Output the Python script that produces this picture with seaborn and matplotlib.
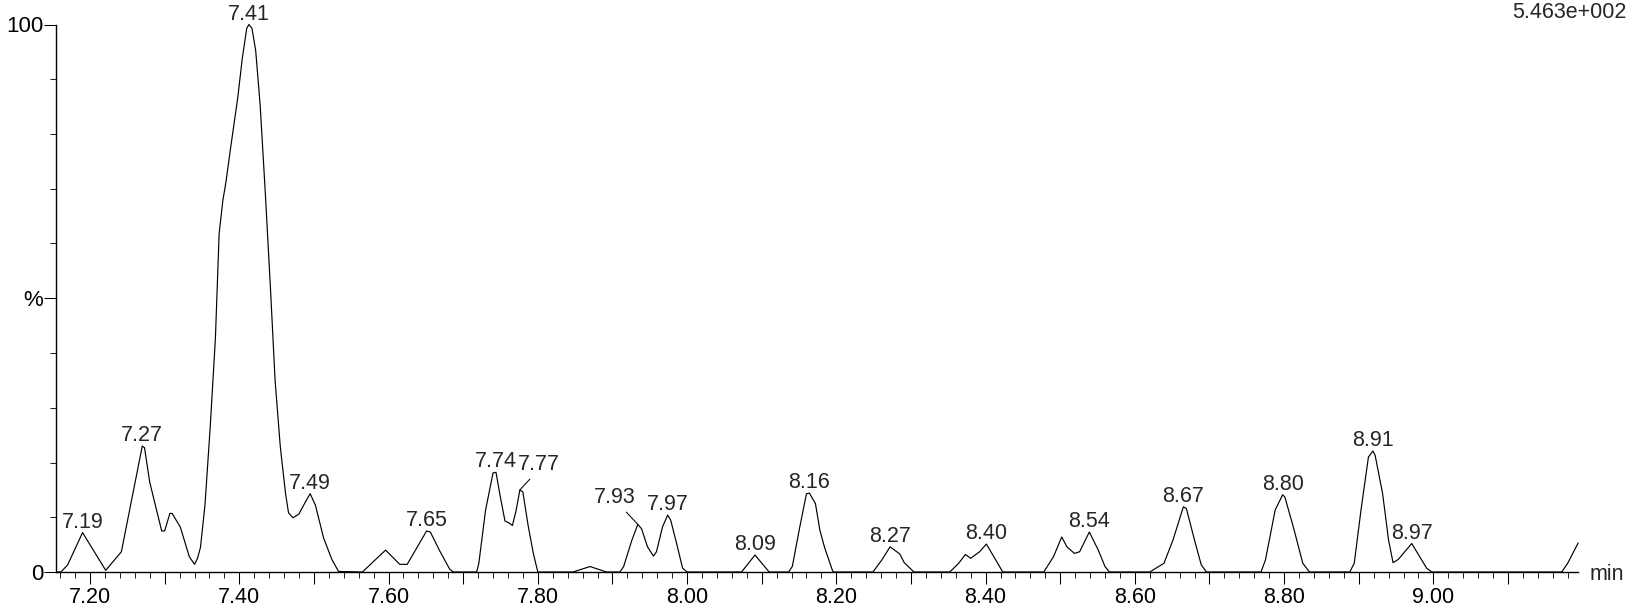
import numpy as np
import pandas as pd
import matplotlib
matplotlib.use("Agg")
import matplotlib.pyplot as plt
from matplotlib.ticker import MultipleLocator, FixedLocator, FuncFormatter
import seaborn as sns

# ---------------- data (retention time in min, relative intensity in %) ----------------
time_min = [
    7.155, 7.161, 7.170, 7.190, 7.221, 7.242, 7.270, 7.273, 7.280, 7.296, 7.300, 7.307,
    7.310, 7.321, 7.333, 7.340, 7.344, 7.348, 7.354, 7.361, 7.368, 7.373, 7.378, 7.382,
    7.388, 7.398, 7.404, 7.410, 7.413, 7.417, 7.422, 7.428, 7.435, 7.442, 7.448, 7.455,
    7.462, 7.466, 7.472, 7.480, 7.489, 7.495, 7.502, 7.513, 7.524, 7.533, 7.565, 7.596,
    7.615, 7.625, 7.651, 7.656, 7.668, 7.682, 7.687, 7.718, 7.721, 7.730, 7.740, 7.744,
    7.749, 7.756, 7.761, 7.766, 7.771, 7.776, 7.780, 7.787, 7.794, 7.800, 7.847, 7.870,
    7.892, 7.910, 7.915, 7.926, 7.934, 7.939, 7.947, 7.955, 7.959, 7.967, 7.974, 7.978,
    7.986, 7.994, 8.000, 8.073, 8.091, 8.110, 8.136, 8.141, 8.151, 8.160, 8.164, 8.172,
    8.178, 8.184, 8.195, 8.197, 8.249, 8.261, 8.272, 8.277, 8.285, 8.291, 8.304, 8.352,
    8.364, 8.373, 8.380, 8.392, 8.401, 8.411, 8.423, 8.478, 8.491, 8.502, 8.509, 8.519,
    8.526, 8.539, 8.551, 8.560, 8.566, 8.620, 8.639, 8.651, 8.665, 8.669, 8.680, 8.689,
    8.696, 8.769, 8.775, 8.788, 8.798, 8.801, 8.813, 8.825, 8.834, 8.888, 8.894, 8.903,
    8.913, 8.919, 8.922, 8.932, 8.940, 8.946, 8.953, 8.971, 8.979, 8.991, 8.998, 9.172,
    9.180, 9.189, 9.194,
]
intensity_pct = [
    0.0, 0.0, 1.3, 7.2, 0.3, 3.7, 23.0, 22.7, 16.4, 7.5, 7.5, 10.7,
    10.7, 8.2, 2.8, 1.4, 2.5, 4.5, 12.2, 26.4, 42.7, 61.8, 67.9, 71.1,
    77.1, 86.7, 93.8, 99.3, 100.0, 99.3, 95.2, 85.2, 68.9, 51.2, 34.9, 22.8,
    14.3, 10.8, 9.9, 10.6, 12.9, 14.3, 12.2, 6.2, 2.3, 0.1, 0.0, 4.0,
    1.4, 1.4, 7.5, 7.3, 4.0, 0.5, 0.0, 0.0, 1.6, 11.3, 18.1, 18.2,
    14.3, 9.3, 9.0, 8.5, 11.3, 15.0, 14.6, 8.5, 3.4, 0.0, 0.0, 1.0,
    0.0, 0.0, 1.0, 5.8, 8.7, 7.9, 4.6, 2.9, 3.7, 8.2, 10.4, 9.5,
    5.2, 0.7, 0.0, 0.0, 3.1, 0.0, 0.0, 1.0, 8.2, 14.3, 14.4, 12.5,
    7.6, 4.6, 0.2, 0.0, 0.0, 2.2, 4.6, 4.1, 3.3, 1.7, 0.0, 0.0,
    1.6, 3.2, 2.5, 3.7, 5.1, 2.8, 0.0, 0.0, 2.8, 6.4, 4.6, 3.4,
    3.7, 7.3, 4.0, 1.0, 0.0, 0.0, 1.6, 5.8, 11.9, 11.6, 5.8, 1.3,
    0.0, 0.0, 2.2, 11.3, 14.1, 13.7, 7.9, 1.6, 0.0, 0.0, 1.6, 11.3,
    21.0, 22.1, 21.3, 14.3, 5.8, 1.7, 2.3, 5.2, 3.4, 0.7, 0.0, 0.0,
    1.6, 4.0, 5.3,
]

peak_labels = ["7.19", "7.27", "7.41", "7.49", "7.65", "7.74", "7.77", "7.93", "7.97",
               "8.09", "8.16", "8.27", "8.40", "8.54", "8.67", "8.80", "8.91", "8.97"]

x_tick_labels = ["7.20", "7.40", "7.60", "7.80", "8.00", "8.20", "8.40", "8.60", "8.80", "9.00"]
y_tick_values = [0, 50, 100]
y_tick_labels = ["0", "%", "100"]
scale_label = "5.463e+002"
x_unit_label = "min"

# ---------------- figure ----------------
sns.set_style("ticks")
plt.rcParams["font.family"] = ["Liberation Sans", "DejaVu Sans"]
FS = 15.5
plt.rcParams["font.size"] = FS

W, H = 1632, 609
fig = plt.figure(figsize=(W / 100, H / 100), dpi=100)
fig.patch.set_facecolor("white")

ax_left, ax_right, ax_top, ax_bottom = 56, 1578, 24.5, 572
ax = fig.add_axes([ax_left / W, (H - ax_bottom) / H,
                   (ax_right - ax_left) / W, (ax_bottom - ax_top) / H])
ax.set_facecolor("white")

df = pd.DataFrame({"t": time_min, "v": intensity_pct})
sns.lineplot(data=df, x="t", y="v", color="black", linewidth=0.85,
             estimator=None, sort=False, ax=ax)
for ln in ax.lines:
    ln.set_clip_on(False)

ax.set_xlim(7.1544, 9.1938)
ax.set_ylim(0, 100)
ax.set_xlabel("")
ax.set_ylabel("")

for s in ("top", "right"):
    ax.spines[s].set_visible(False)
for s in ("left", "bottom"):
    ax.spines[s].set_linewidth(1.0)
    ax.spines[s].set_color("black")

# x ticks: long every 0.1, labelled every 0.2, short every 0.02
ax.xaxis.set_major_locator(MultipleLocator(0.1))
ax.xaxis.set_minor_locator(MultipleLocator(0.02))
xl_set = set(x_tick_labels)
ax.xaxis.set_major_formatter(FuncFormatter(
    lambda x, p: f"{x:.2f}" if f"{x:.2f}" in xl_set else ""))
ax.tick_params(axis="x", which="major", length=8.6, width=0.75, direction="out",
               pad=2.5, labelsize=FS, colors="black")
ax.tick_params(axis="x", which="minor", length=4.3, width=0.75, direction="out")

# y ticks
ax.yaxis.set_major_locator(FixedLocator(y_tick_values))
ax.yaxis.set_minor_locator(MultipleLocator(10))
ax.set_yticklabels(y_tick_labels)
ax.tick_params(axis="y", which="major", length=8.6, width=0.75, direction="out",
               pad=0.5, labelsize=FS + 0.5, colors="black")
ax.tick_params(axis="y", which="minor", length=4.3, width=0.75, direction="out")

# peak labels
t_arr = np.array(time_min)
v_arr = np.array(intensity_pct)
special = {
    "7.77": dict(xytext=(19, 20), relpos=(0.38, 0.0)),
    "7.93": dict(xytext=(-23, 21.5), relpos=(0.68, 0.0)),
}
for lab in peak_labels:
    tv = float(lab)
    m = np.abs(t_arr - tv) <= 0.012
    idx = np.where(m)[0][np.argmax(v_arr[m])]
    xp, yp = t_arr[idx], v_arr[idx]
    if lab in special:
        sp = special[lab]
        ax.annotate(lab, xy=(xp, yp), xytext=sp["xytext"], textcoords="offset pixels",
                    ha="center", va="baseline", fontsize=FS, annotation_clip=False,
                    arrowprops=dict(arrowstyle="-", lw=0.75, color="black",
                                    shrinkA=1, shrinkB=0, relpos=sp["relpos"]))
    else:
        ax.annotate(lab, xy=(xp, yp), xytext=(0, 5), textcoords="offset pixels",
                    ha="center", va="baseline", fontsize=FS, annotation_clip=False)

fig.text(1626.5 / W, 1 - 18.3 / H, scale_label, ha="right", va="baseline", fontsize=FS)
fig.text(1590 / W, 1 - 580 / H, x_unit_label, ha="left", va="baseline", fontsize=FS)

fig.savefig("out.png", dpi=100, facecolor="white")
